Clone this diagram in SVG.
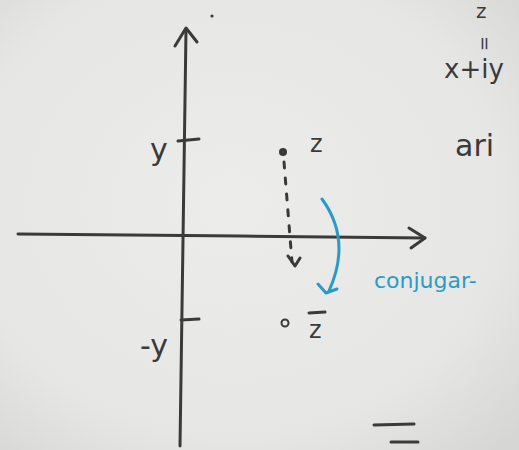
<svg xmlns="http://www.w3.org/2000/svg" width="519" height="450" viewBox="0 0 519 450">
<defs>
<radialGradient id="bg" cx="0.45" cy="0.45" r="0.75">
<stop offset="0" stop-color="#ecedeb"/>
<stop offset="0.7" stop-color="#e6e7e5"/>
<stop offset="1" stop-color="#d6d7d5"/>
</radialGradient>
<style>
.ink{stroke:#3a3a3a;stroke-width:3;fill:none;stroke-linecap:round;stroke-linejoin:round}
.blue{stroke:#2a9bc9;stroke-width:3;fill:none;stroke-linecap:round;stroke-linejoin:round}
.t{font-family:"DejaVu Sans",sans-serif;fill:#3a3a3a}
.tb{font-family:"DejaVu Sans",sans-serif;fill:#2a9bc9}
</style>
</defs>
<rect width="519" height="450" fill="url(#bg)"/>
<g id="axes">
<path class="ink" d="M180 446 L183 240 L186 30"/>
<path class="ink" d="M175 46 L186 28 L197 42"/>
<circle cx="212" cy="16" r="1.6" fill="#3a3a3a"/>
<path class="ink" d="M18 234 L240 236 L425 238"/>
<path class="ink" d="M409 228 L425 238 L411 248"/>
<path class="ink" d="M178 141 L199 139"/>
<path class="ink" d="M181 320 L199 319"/>
</g>
<g id="points">
<circle cx="283" cy="152" r="4" fill="#3a3a3a"/>
<circle cx="285" cy="323" r="3.5" fill="none" stroke="#3a3a3a" stroke-width="2"/>
<path class="ink" stroke-dasharray="6 10" d="M284 162 L292 262"/>
<path class="ink" d="M288 256 L295 266 L300 258"/>
</g>
<g id="connectors">
<path class="blue" d="M322 199 Q352 240 329 291"/>
<path class="blue" d="M318 284 L326 293 L337 289"/>
</g>
<g id="labels">
<text class="t" x="150" y="160" font-size="30">y</text>
<text class="t" x="140" y="356" font-size="30">-y</text>
<text class="t" x="310" y="152" font-size="24">z</text>
<text class="t" x="309" y="338" font-size="24">z</text>
<path class="ink" d="M309 313 L325 312"/>
<text class="tb" x="374" y="288" font-size="22">conjugar-</text>
<text class="t" x="476" y="18" font-size="20">z</text>
<text class="t" font-size="18" transform="translate(479,36) rotate(90)">=</text>
<text class="t" x="444" y="78" font-size="26">x+iy</text>
<text class="t" x="455" y="156" font-size="30">ari</text>
<path class="ink" stroke-width="4" d="M374 425 L414 424"/>
<path class="ink" stroke-width="4" d="M391 442 L418 442"/>
</g>
</svg>
